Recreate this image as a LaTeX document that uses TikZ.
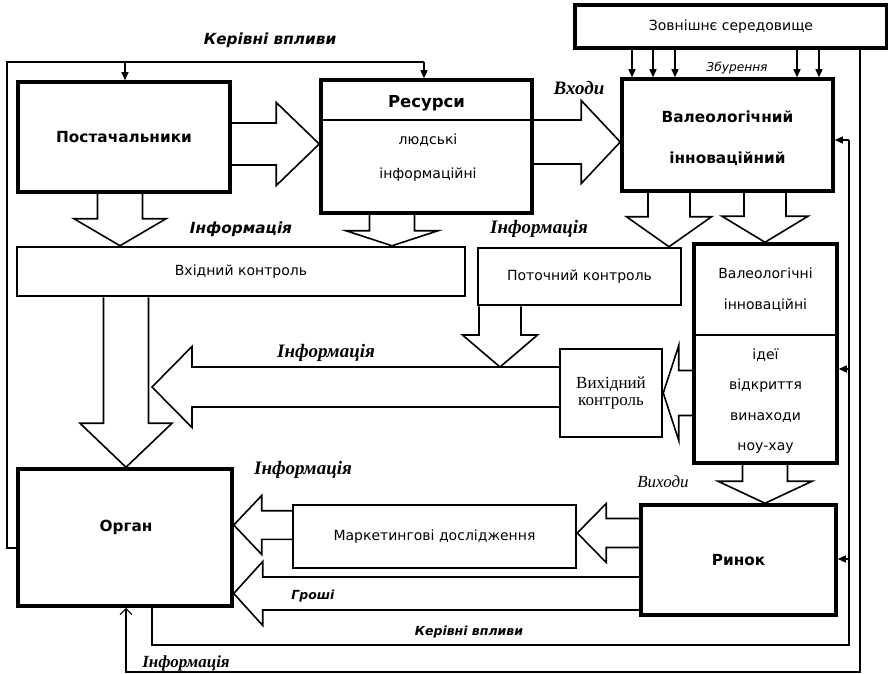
\documentclass[tikz,border=0pt]{standalone}
\usepackage{fontspec}
\setmainfont{DejaVu Sans}
\newfontfamily\tms{Liberation Serif}
\usetikzlibrary{calc,arrows.meta}

% hollow block arrow: from, to, half shaft, half head, head length
\newcommand{\blockarrow}[5]{%
  \coordinate (ba-s) at (#1);
  \coordinate (ba-t) at (#2);
  \coordinate (ba-h) at ($(ba-t)!#5!(ba-s)$);
  \draw[bigarrow] ($(ba-s)!#3!90:(ba-t)$) -- ($(ba-h)!#3!90:(ba-t)$) -- ($(ba-h)!#4!90:(ba-t)$) -- (ba-t)
    -- ($(ba-h)!#4!-90:(ba-t)$) -- ($(ba-h)!#3!-90:(ba-t)$) -- ($(ba-s)!#3!-90:(ba-t)$);
}

\begin{document}
\begin{tikzpicture}[x=1pt,y=-1pt,
    thickbox/.style={draw,rectangle,line width=3.5pt,inner sep=0pt},
    midbox/.style={draw,rectangle,line width=2.5pt,inner sep=0pt},
    bigarrow/.style={line width=1.6pt,line join=miter},
    link/.style={line width=1.2pt},
    arr/.style={-{Triangle[length=8pt,width=7pt]}},
    big/.style={font=\fontsize{15.3}{17}\selectfont\bfseries},
    txt/.style={font=\fontsize{14}{16}\selectfont},
    lab/.style={font=\fontsize{15.3}{17}\selectfont\bfseries\itshape},
    tlab/.style={font=\tms\fontsize{19}{21}\selectfont\bfseries\itshape}]
  \useasboundingbox (0,0) rectangle (888,674);

  % boxes
  \node[thickbox,minimum width=212pt,minimum height=110pt,big] (post) at (124,137) {Постачальники};
  \node[thickbox,minimum width=211pt,minimum height=133pt] (res) at (426.5,146.5) {};
  \node[thickbox,minimum width=312pt,minimum height=43pt,txt] (env) at (731,26.5) {Зовнішнє середовище};
  \node[thickbox,minimum width=211pt,minimum height=112pt] (val) at (727.5,135) {};
  \node[midbox,minimum width=448pt,minimum height=49pt,txt] (vin) at (241,271.5) {Вхідний контроль};
  \node[midbox,minimum width=203pt,minimum height=57pt,txt] (cur) at (579.5,276.5) {Поточний контроль};
  \node[thickbox,minimum width=143pt,minimum height=219pt] (ideas) at (765.5,353.5) {};
  \node[midbox,minimum width=102pt,minimum height=88pt,align=center,
        font=\tms\fontsize{17}{17.5}\selectfont] (out) at (611,393) {Вихідний\\контроль};
  \node[thickbox,minimum width=214pt,minimum height=137pt] (org) at (125,537.5) {};
  \node[midbox,minimum width=283pt,minimum height=63pt,txt] (mkt) at (434.5,536.5) {Маркетингові дослідження};
  \node[thickbox,minimum width=195pt,minimum height=110pt,big] (mar) at (738.5,560) {Ринок};

  \draw[line width=2pt] (res.west |- 0,120) -- (res.east |- 0,120);
  \draw[line width=2pt] (ideas.west |- 0,335) -- (ideas.east |- 0,335);

  % texts inside the boxes
  \node[big,font=\fontsize{16.5}{18}\selectfont\bfseries] (rest) at (426.5,103) {Ресурси};
  \node[txt] (res1) at (428,140) {людські};
  \node[txt] (res2) at (428,175) {інформаційні};
  \node[big] (val1) at (727.5,117) {Валеологічний};
  \node[big] (val2) at (727.5,159) {інноваційний};
  \node[big] (orgt) at (126,527) {Орган};
  \node[txt] (id1) at (765.5,273) {Валеологічні};
  \node[txt] (id2) at (765.5,305) {інноваційні};
  \node[txt] (id3) at (765.5,355) {ідеї};
  \node[txt] (id4) at (765.5,386) {відкриття};
  \node[txt] (id5) at (765.5,418) {винаходи};
  \node[txt] (id6) at (765.5,448) {ноу-хау};

  % labels
  \node[lab] (lkv1) at (270,40) {Керівні впливи};
  \node[font=\fontsize{12.2}{14}\selectfont\itshape] (lzb) at (737,68) {Збурення};
  \node[tlab] (lvh) at (579,88) {Входи};
  \node[lab] (linf1) at (241,229) {Інформація};
  \node[tlab] (linf2) at (539,229) {Інформація};
  \node[tlab] (linf3) at (326,353) {Інформація};
  \node[tlab] (linf4) at (303,470) {Інформація};
  \node[font=\tms\fontsize{17}{19}\selectfont\itshape] (lvyh) at (663,482) {Виходи};
  \node[font=\fontsize{12.5}{14}\selectfont\bfseries\itshape] (lgr) at (313,596) {Гроші};
  \node[font=\fontsize{12.5}{14}\selectfont\bfseries\itshape] (lkv2) at (469,632) {Керівні впливи};
  \node[font=\tms\fontsize{17}{19}\selectfont\bfseries\itshape] (linf5) at (186,663) {Інформація};

  % block arrows
  \coordinate (ib) at (152,387);
  \coordinate (ptop) at (500,367);
  \blockarrow{post.east |- 0,144}{res.west |- 0,144}{21pt}{41.5pt}{43pt}
  \blockarrow{res.east |- 0,142}{val.west |- 0,142}{22pt}{41.5pt}{39pt}
  \blockarrow{post.south -| 120,0}{vin.north -| 120,0}{22.5pt}{46pt}{27pt}
  \blockarrow{res.south -| 392,0}{vin.north -| 392,0}{22.5pt}{46pt}{15pt}
  \blockarrow{val.south -| 669,0}{cur.north -| 669,0}{21pt}{42.5pt}{30pt}
  \blockarrow{val.south -| 765,0}{ideas.north -| 765,0}{21pt}{43pt}{26pt}
  \blockarrow{vin.south -| 126,0}{org.north -| 126,0}{22.5pt}{46pt}{44pt}
  \blockarrow{cur.south -| ptop}{ptop}{21pt}{37.5pt}{32pt}
  \blockarrow{out.west |- ib}{ib}{20pt}{40.5pt}{40pt}
  \blockarrow{ideas.west |- 0,393}{out.east |- 0,393}{22.5pt}{47.5pt}{15.5pt}
  \blockarrow{ideas.south -| 765,0}{mar.north -| 765,0}{22.5pt}{47pt}{22pt}
  \blockarrow{mar.west |- 0,533}{mkt.east |- 0,533}{14.5pt}{29.5pt}{29pt}
  \blockarrow{mkt.west |- 0,525}{org.east |- 0,525}{14.3pt}{29.5pt}{28pt}
  \blockarrow{mar.west |- 0,593.5}{org.east |- 0,593.5}{16.5pt}{32pt}{29pt}

  % control lines
  \coordinate (kv) at (7,62);
  \draw[link] (org.west |- 0,548) -| (kv) -- (kv -| 424,0);
  \draw[link,arr] (kv -| 125,0) -- (post.north -| 125,0);
  \draw[link,arr] (kv -| 424,0) -- (res.north -| 424,0);

  \draw[link,arr] (env.south -| 632,0) -- (val.north -| 632,0);
  \draw[link,arr] (env.south -| 653,0) -- (val.north -| 653,0);
  \draw[link,arr] (env.south -| 675,0) -- (val.north -| 675,0);
  \draw[link,arr] (env.south -| 797,0) -- (val.north -| 797,0);
  \draw[link,arr] (env.south -| 819,0) -- (val.north -| 819,0);

  \coordinate (ir) at (860,672);
  \draw[link,-{Straight Barb[length=6pt,width=12pt]}] (env.south -| ir) -- (ir) -| (org.south -| 126,0);

  \coordinate (kb) at (849,645);
  \draw[link] (org.south -| 152,0) |- (kb) -- (kb |- 0,140);
  \draw[link,arr] (kb |- 0,140) -- (val.east |- 0,140);
  \draw[link,arr] (kb |- 0,369) -- (ideas.east |- 0,369);
  \draw[link,arr] (kb |- 0,559) -- (mar.east |- 0,559);
\end{tikzpicture}
\end{document}
